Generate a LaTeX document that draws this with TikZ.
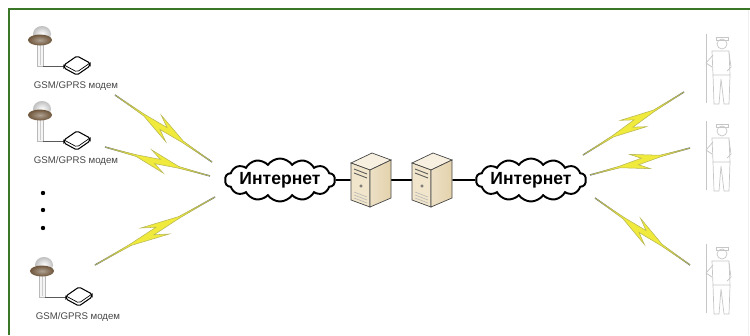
\documentclass[tikz,border=0pt]{standalone}
\usepackage{fontspec}
\setmainfont{Liberation Sans}
\usepackage{tikz}
\usepackage{xcolor}
\usetikzlibrary{shapes.symbols,calc,positioning}

\definecolor{framegreen}{RGB}{58,120,40}
\definecolor{zapyellow}{RGB}{240,234,60}
\definecolor{zapedge}{RGB}{95,105,125}
\definecolor{srvtop}{RGB}{247,240,224}
\definecolor{srvfront}{RGB}{241,230,204}
\definecolor{srvside}{RGB}{228,210,172}
\definecolor{domebrown}{RGB}{110,85,58}

% radio link between two named points
\newcommand{\zap}[2]{%
\draw[zapedge,line width=0.8pt] (#1) -- (#2);
\filldraw[zap] (#1) -- ($(#1)!0.3!(#2)!0.5pt!-90:(#2)$) -- ($(#1)!0.58!(#2)!5.5pt!-90:(#2)$) -- ($(#1)!0.48!(#2)!1.6pt!-90:(#2)$) -- ($(#1)!0.7!(#2)!0.5pt!-90:(#2)$) -- (#2) -- ($(#1)!0.7!(#2)!0.5pt!90:(#2)$) -- ($(#1)!0.42!(#2)!5.5pt!90:(#2)$) -- ($(#1)!0.52!(#2)!1.6pt!90:(#2)$) -- ($(#1)!0.3!(#2)!0.5pt!90:(#2)$) -- cycle;}

\tikzset{
  station/.pic={
    \filldraw[fill=gray!8,draw=gray!55] (-3,-22) rectangle (3,0);
    \draw[gray!40] (0,-21) -- (0,-1);
    \shade[inner color=white,outer color=gray!50] (2,-32) ellipse (9 and 8);
    \shade[inner color=domebrown!55,outer color=domebrown] (0,-26) ellipse (12 and 5.5);
    \draw[gray!70!black,line width=0.5pt] (3,0) -- (24,0);
    \filldraw[fill=white,draw=black,line width=0.6pt,rounded corners=1pt] (24,-1) -- (37,-10) -- (50,-3) -- (50,0) -- (37,9) -- (24,2) -- cycle;
    \draw[black,line width=0.4pt,rounded corners=1pt] (24,-1) -- (37,6) -- (50,-3);
    \node[modemlabel] (-label) at (36,20) {GSM/GPRS модем};
  },
  server/.pic={
    \filldraw[srvline,fill=srvtop] (-20,-17) -- (1,-27) -- (20,-20) -- (-1,-10) -- cycle;
    \filldraw[srvline,fill=srvfront] (-20,-17) -- (-1,-10) -- (-1,27) -- (-20,20) -- cycle;
    \shadedraw[srvline,left color=srvside!70,right color=srvside] (-1,-10) -- (20,-20) -- (20,18) -- (-1,27) -- cycle;
    \draw[gray!70!black,line width=0.5pt] (-17,-11) -- (-4,-6) (-17,-7) -- (-4,-2);
    \draw[gray!70!black,line width=0.3pt] (-10,6) circle (1.3);
    \foreach \g in {12,15,18}
      \draw[gray!60,line width=0.3pt] (-17,\g) -- (-4,\g+5);
  },
  rover/.pic={
    \draw[roverline] (-12,-73) -- (-12,-4);
    \draw[roverline] (4,-63) circle (5);
    \draw[roverline] (-2,-70) -- (10,-70) -- (10,-67) -- (-2,-67) -- cycle;
    \draw[roverline] (-6,-56) -- (11,-56) -- (12,-32) -- (-5,-32) -- cycle;
    \draw[roverline] (-5,-52) -- (-12,-44) -- (-6,-40);
    \draw[roverline] (11,-54) -- (13,-40) -- (9,-36);
    \draw[roverline] (-5,-32) -- (-4,-3) -- (1,-3) -- (3,-28) -- (6,-3) -- (11,-3) -- (12,-32);
  }
}

\begin{document}
\begin{tikzpicture}[x=0.02cm,y=-0.02cm,
  modemlabel/.style={inner sep=0pt,text=gray!55!black,font=\fontsize{5.5}{6}\selectfont},
  net/.style={cloud,draw,line width=1.1pt,cloud puffs=14,cloud puff arc=110,aspect=2.6,inner sep=0pt,
    minimum width=2.2cm,minimum height=0.86cm,
    label={[font=\bfseries\fontsize{10}{12}\selectfont]center:#1}},
  srvbox/.style={inner sep=0pt,minimum width=0.8cm,minimum height=1.08cm},
  srvline/.style={draw=gray!55!black,line width=0.4pt},
  link/.style={line width=0.9pt},
  zap/.style={fill=zapyellow,draw=zapyellow!60!zapedge,line width=0.3pt},
  roverline/.style={gray!45,line width=0.4pt}]
\useasboundingbox (0,0) rectangle (750,335);
\draw[framegreen,line width=1.7pt] (9,335) -- (9,9) -- (750,9);
\draw[gray!12,line width=0.4pt] (748,10) -- (748,335);

% stations with modems
\pic (st1) at (40,66) {station};
\pic (st2) at (40,141) {station};
\pic (st3) at (42,297) {station};
\foreach \y in {193,210,228}
  \fill (43,\y) circle (2.2);

% internet and servers
\node[net=Интернет] (net1) at (280,180) {};
\node[net=Интернет] (net2) at (531,180) {};
\node[srvbox] (srv1) at (371,180) {};
\node[srvbox] (srv2) at (432,180) {};
\draw[link] (net1) -- (srv1);
\draw[link] (srv1) -- (srv2);
\draw[link] (srv2) -- (net2);
\pic at (srv1) {server};
\pic at (srv2) {server};

% users
\pic at (718,107) {rover};
\pic at (718,194) {rover};
\pic at (718,317) {rover};

% radio links
\coordinate (a1) at (115,95);  \coordinate (a2) at (212,162);
\coordinate (b1) at (105,147); \coordinate (b2) at (210,176);
\coordinate (c1) at (95,265);  \coordinate (c2) at (215,197);
\coordinate (d1) at (583,155); \coordinate (d2) at (684,92);
\coordinate (e1) at (590,175); \coordinate (e2) at (690,148);
\coordinate (f1) at (595,198); \coordinate (f2) at (690,265);
\zap{a1}{a2}
\zap{b1}{b2}
\zap{c1}{c2}
\zap{d1}{d2}
\zap{e1}{e2}
\zap{f1}{f2}
\end{tikzpicture}
\end{document}
